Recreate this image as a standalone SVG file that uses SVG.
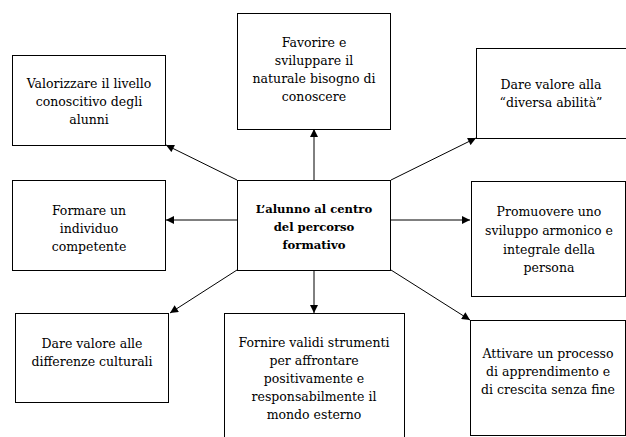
<svg xmlns="http://www.w3.org/2000/svg" width="626" height="437" viewBox="0 0 626 437">
<style>
.box{fill:#fff;stroke:#000;stroke-width:1}
.t{font-family:"DejaVu Serif","Liberation Serif",serif;font-size:12.5px;text-anchor:middle;fill:#000}
.b{font-weight:bold;font-size:11.6px}
.c{stroke:#000;stroke-width:1;fill:none;marker-end:url(#ah)}
</style>
<defs>
<marker id="ah" viewBox="0 0 10 10" refX="10" refY="5" markerWidth="9" markerHeight="8" markerUnits="userSpaceOnUse" orient="auto">
<path d="M0,0 L10,5 L0,10 Z" fill="#000"/>
</marker>
</defs>
<rect width="626" height="437" fill="#fff"/>
<g id="connectors">
<line class="c" x1="237" y1="180" x2="166" y2="145"/>
<line class="c" x1="314" y1="180" x2="314" y2="129"/>
<line class="c" x1="391" y1="180" x2="476" y2="138"/>
<line class="c" x1="237" y1="220" x2="166" y2="220"/>
<line class="c" x1="391" y1="220" x2="470" y2="220"/>
<line class="c" x1="237" y1="270" x2="170" y2="313"/>
<line class="c" x1="314" y1="270" x2="314" y2="313"/>
<line class="c" x1="391" y1="270" x2="470" y2="320"/>
</g>
<g id="n-valorizzare">
<rect class="box" x="12.5" y="55.5" width="153" height="90"/>
<text class="t" x="89" y="88">Valorizzare il livello</text>
<text class="t" x="89" y="106">conoscitivo degli</text>
<text class="t" x="89" y="124">alunni</text>
</g>
<g id="n-favorire">
<rect class="box" x="237.5" y="13.5" width="153" height="116"/>
<text class="t" x="314" y="47">Favorire e</text>
<text class="t" x="314" y="65">sviluppare il</text>
<text class="t" x="314" y="83">naturale bisogno di</text>
<text class="t" x="314" y="101">conoscere</text>
</g>
<g id="n-diversa">
<rect class="box" x="476.5" y="48.5" width="150" height="90"/>
<text class="t" x="551" y="89">Dare valore alla</text>
<text class="t" x="551" y="107">“diversa abilità”</text>
</g>
<g id="n-centro">
<rect class="box" x="237.5" y="180.5" width="153" height="90"/>
<text class="t b" x="314" y="213">L’alunno al centro</text>
<text class="t b" x="314" y="231">del percorso</text>
<text class="t b" x="314" y="249">formativo</text>
</g>
<g id="n-formare">
<rect class="box" x="12.5" y="180.5" width="153" height="90"/>
<text class="t" x="89" y="215">Formare un</text>
<text class="t" x="89" y="233">individuo</text>
<text class="t" x="89" y="251">competente</text>
</g>
<g id="n-promuovere">
<rect class="box" x="471.5" y="181.5" width="154" height="115"/>
<text class="t" x="549" y="216">Promuovere uno</text>
<text class="t" x="549" y="235">sviluppo armonico e</text>
<text class="t" x="549" y="254">integrale della</text>
<text class="t" x="549" y="272">persona</text>
</g>
<g id="n-culturali">
<rect class="box" x="15.5" y="313.5" width="153" height="89"/>
<text class="t" x="92" y="348">Dare valore alle</text>
<text class="t" x="92" y="366">differenze culturali</text>
</g>
<g id="n-fornire">
<rect class="box" x="224.5" y="313.5" width="180" height="130"/>
<text class="t" x="314" y="347">Fornire validi strumenti</text>
<text class="t" x="314" y="365">per affrontare</text>
<text class="t" x="314" y="383">positivamente e</text>
<text class="t" x="314" y="401">responsabilmente il</text>
<text class="t" x="314" y="419">mondo esterno</text>
</g>
<g id="n-attivare">
<rect class="box" x="470.5" y="320.5" width="155" height="115"/>
<text class="t" x="548" y="358">Attivare un processo</text>
<text class="t" x="548" y="376">di apprendimento e</text>
<text class="t" x="548" y="394">di crescita senza fine</text>
</g>
</svg>
